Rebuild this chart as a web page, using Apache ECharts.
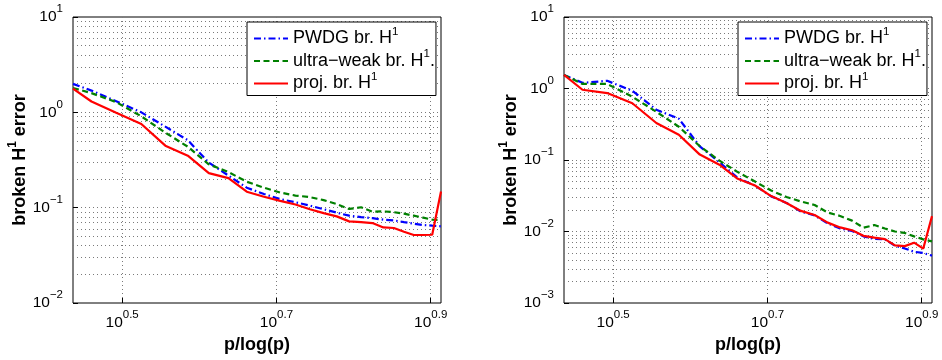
<!DOCTYPE html>
<html><head><meta charset="utf-8">
<script src="https://cdn.jsdelivr.net/npm/echarts@6/dist/echarts.min.js"></script>
<style>html,body{margin:0;padding:0;background:#fff}#c{width:942px;height:360px}</style>
</head><body><div id="c"></div>
<script>
// x values: p/log(p), p = 3..27
const xVals = [2.7307, 2.8854, 3.1067, 3.3486, 3.5973, 3.8472, 4.0960, 4.3429, 4.5874, 4.8292,
  5.0684, 5.3049, 5.5390, 5.7708, 6.0002, 6.2275, 6.4529, 6.6761, 6.8976, 7.1174,
  7.3353, 7.5517, 7.7666, 7.9801, 8.1922];

// left panel
const leftPWDG = [1.99, 1.69, 1.31, 1.00, 0.708, 0.51, 0.297, 0.217, 0.162, 0.139,
  0.123, 0.114, 0.105, 0.0964, 0.0887, 0.0824, 0.0795, 0.0776, 0.0748, 0.0736,
  0.0705, 0.068, 0.0658, 0.0647, 0.0637];
const leftUW = [1.80, 1.59, 1.28, 0.908, 0.612, 0.436, 0.285, 0.236, 0.187, 0.162,
  0.144, 0.134, 0.129, 0.12, 0.109, 0.097, 0.101, 0.0908, 0.0914, 0.0897,
  0.0865, 0.0824, 0.0785, 0.0748, 0.0745];
const leftProj = [1.77, 1.30, 0.99, 0.755, 0.447, 0.351, 0.23, 0.204, 0.147, 0.130,
  0.118, 0.108, 0.0964, 0.0876, 0.081, 0.0718, 0.0705, 0.069, 0.062, 0.0612,
  0.0558, 0.0517, 0.0517, 0.052, 0.148];

// right panel
const rightPWDG = [1.55, 1.20, 1.28, 0.93, 0.505, 0.378, 0.155, 0.093, 0.056, 0.044,
  0.031, 0.0251, 0.019, 0.0168, 0.013, 0.011, 0.0102, 0.00855, 0.00788, 0.0078,
  0.0063, 0.0058, 0.0052, 0.0050, 0.0046];
const rightUW = [1.55, 1.16, 1.16, 0.766, 0.473, 0.292, 0.156, 0.098, 0.0678, 0.05,
  0.0374, 0.0304, 0.0263, 0.0235, 0.0184, 0.0165, 0.0142, 0.0113, 0.0123, 0.011,
  0.01, 0.00955, 0.00855, 0.00776, 0.00728];
const rightProj = [1.55, 0.96, 0.863, 0.622, 0.329, 0.226, 0.119, 0.086, 0.0545, 0.044,
  0.0313, 0.0251, 0.0194, 0.017, 0.0133, 0.0114, 0.0104, 0.0087, 0.0082, 0.00783,
  0.0064, 0.00625, 0.00698, 0.00575, 0.0164];

const seriesNames = ['PWDG br. H¹', 'ultra−weak br. H¹.', 'proj. br. H¹'];
const xTickExponents = ['0.5', '0.7', '0.9'];
const leftYRange = [0.01, 10];
const rightYRange = [0.001, 10];
const minorMults = [2, 3, 4, 5, 6, 7, 8, 9];
const yTitle = 'broken H¹ error';
const xTitle = 'p/log(p)';

const FONT = '"Liberation Sans", Arial, Helvetica, sans-serif';
const colors = ['#0000ff', '#008000', '#ff0000'];
const dashes = [[7, 3, 1.5, 3], [6, 3.5], 'solid'];

function supRich(str, tag) {
  return str.split('¹').map(p => p === '' ? '' : '{' + tag + '|' + p + '}').join('{s|1}');
}
const tickRich = {
  b: {fontSize: 15.5, lineHeight: 28, fontFamily: FONT, color: '#000'},
  s: {fontSize: 11.5, lineHeight: 10, verticalAlign: 'top', fontFamily: FONT, color: '#000'}
};
function yFmt(v) {
  const e = Math.round(Math.log10(v));
  return '{b|10}{s|' + (e < 0 ? '−' + (-e) : String(e)) + '}';
}
const X_SHIFT = 0.1;
function xFmt(v) {
  const e = (v - X_SHIFT).toFixed(1);
  return xTickExponents.indexOf(e) >= 0 ? '{b|10}{s|' + e + '}' : '';
}
const gridLine = {show: true, lineStyle: {color: '#7a7a7a', width: 1, type: [1, 3]}};

const grids = [], xAxes = [], yAxes = [], series = [], legends = [];
function panel(gridLeft, yRange, datasets) {
  const gi = grids.length;
  grids.push({left: gridLeft, top: 17, width: 368, height: 286, show: true,
    borderColor: '#000', borderWidth: 1, backgroundColor: '#fff', containLabel: false});
  const xDataIdx = xAxes.length;
  xAxes.push({type: 'log', gridIndex: gi, min: xVals[0], max: xVals[xVals.length - 1], show: false});
  const lx0 = Math.log10(xVals[0]) + X_SHIFT, lx1 = Math.log10(xVals[xVals.length - 1]) + X_SHIFT;
  xAxes.push({type: 'value', gridIndex: gi, min: lx0, max: lx1, splitNumber: 2, position: 'bottom',
    axisLine: {show: false}, axisTick: {show: true, inside: true, length: 5, lineStyle: {color: '#000'}},
    axisLabel: {formatter: xFmt, margin: 6, showMinLabel: false, showMaxLabel: false, rich: tickRich},
    splitLine: Object.assign({showMinLine: false, showMaxLine: false}, gridLine),
    name: xTitle, nameLocation: 'middle', nameGap: 29,
    nameTextStyle: {fontFamily: FONT, fontWeight: 'bold', fontSize: 18, color: '#000'}});
  const yMainIdx = yAxes.length;
  yAxes.push({type: 'log', gridIndex: gi, min: yRange[0], max: yRange[1], position: 'left',
    axisLine: {show: false}, axisTick: {show: true, inside: true, length: 5, lineStyle: {color: '#000'}},
    axisLabel: {formatter: yFmt, margin: 10, rich: tickRich},
    splitLine: Object.assign({showMinLine: false, showMaxLine: false}, gridLine),
    name: supRich(yTitle, 't'), nameLocation: 'middle', nameGap: 37,
    nameTextStyle: {fontFamily: FONT, fontWeight: 'bold', fontSize: 18, color: '#000',
      rich: {t: {fontFamily: FONT, fontWeight: 'bold', fontSize: 18, lineHeight: 26, color: '#000'},
             s: {fontFamily: FONT, fontWeight: 'bold', fontSize: 12, lineHeight: 12, verticalAlign: 'top', color: '#000'}}}});
  minorMults.forEach(m => {
    yAxes.push({type: 'log', gridIndex: gi, min: yRange[0] / m, max: yRange[1] / m, position: 'left',
      axisLine: {show: false}, axisTick: {show: false}, axisLabel: {show: false},
      splitLine: Object.assign({showMinLine: false, showMaxLine: false}, gridLine)});
  });
  datasets.forEach((d, k) => {
    series.push({type: 'line', name: seriesNames[k], xAxisIndex: xDataIdx, yAxisIndex: yMainIdx,
      data: xVals.map((x, i) => [x, d[i]]), symbol: 'none', showSymbol: false, color: colors[k],
      itemStyle: {opacity: 0},
      lineStyle: {color: colors[k], width: 2.2, type: dashes[k]}, animation: false, z: 3 + k});
  });
  legends.push({orient: 'vertical', left: gridLeft + 174, top: 22, data: seriesNames,
    padding: [3.5, 1, 3, 6], itemGap: 0.5, itemWidth: 34, itemHeight: 14,
    borderColor: '#000', borderWidth: 1, borderRadius: 0, backgroundColor: '#fff',
    itemStyle: {opacity: 0, borderWidth: 0},
    selectedMode: false, formatter: n => supRich(n, 't'),
    textStyle: {fontFamily: FONT, fontSize: 18, color: '#000',
      rich: {t: {fontFamily: FONT, fontSize: 18, lineHeight: 26, color: '#000'},
             s: {fontFamily: FONT, fontSize: 11.5, lineHeight: 12, verticalAlign: 'top', color: '#000'}}}});
}
panel(73, leftYRange, [leftPWDG, leftUW, leftProj]);
panel(564, rightYRange, [rightPWDG, rightUW, rightProj]);

const chart = echarts.init(document.getElementById('c'), null, {renderer: 'canvas'});
chart.setOption({animation: false, backgroundColor: '#fff', textStyle: {fontFamily: FONT},
  grid: grids, xAxis: xAxes, yAxis: yAxes, series: series, legend: legends});
</script></body></html>
